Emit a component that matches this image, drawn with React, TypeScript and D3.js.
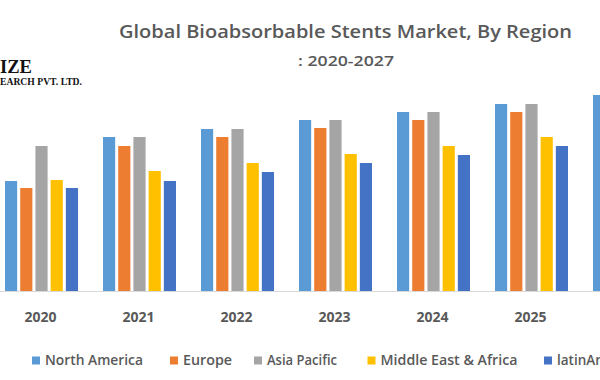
import React from "react";
import * as d3 from "d3";

const years = ["2020", "2021", "2022", "2023", "2024", "2025", "2026", "2027"];
const seriesNames = ["North America", "Europe", "Asia Pacific", "Middle East & Africa", "latinAmerica"];
const seriesColors = ["#5B9BD5", "#ED7D31", "#A5A5A5", "#FFC000", "#4472C4"];
const northAmerica = [11.0, 15.4, 16.2, 17.1, 17.9, 18.7, 19.6, 20.4];
const europe = [10.3, 14.5, 15.4, 16.3, 17.1, 17.9, 18.7, 19.6];
const asiaPacific = [14.5, 15.4, 16.2, 17.1, 17.9, 18.7, 19.6, 20.4];
const middleEastAfrica = [11.1, 12.0, 12.8, 13.7, 14.5, 15.4, 16.2, 17.1];
const latinAmerica = [10.3, 11.0, 11.9, 12.8, 13.6, 14.5, 15.4, 16.2];
const seriesValues = [northAmerica, europe, asiaPacific, middleEastAfrica, latinAmerica];

const titleLine1 = "Global Bioabsorbable Stents Market, By Region";
const titleLine2 = ":  2020-2027";

// legend layout (positions only)
const legendSquareX = [32, 170, 254, 367.5, 544];
const legendTextLen = [98, 49, 70, 137, 0];

export default function App() {
  const width = 600;
  const height = 380;
  const baseline = 291;

  const x0 = d3.scaleBand<string>().domain(years).range([5, 764]).paddingInner(0.255).paddingOuter(0);
  const x1 = d3.scaleBand<number>().domain(d3.range(seriesNames.length)).range([0, x0.bandwidth()]).paddingInner(0.2);
  const y = d3.scaleLinear().domain([0, 25]).range([baseline, baseline - 250]);

  const font = "'Open Sans', 'Noto Sans', sans-serif";
  const gray = "#595959";

  return (
    <svg width={width} height={height} style={{ position: "absolute", left: 0, top: 0, background: "#fff" }}>
      <rect width={width} height={height} fill="#fff" />
      {/* logo fragment */}
      <text x={0} y={72.5} fontFamily="'Liberation Serif', 'DejaVu Serif', serif" fontWeight="bold" fontSize={19} fill="#111" textLength={32} lengthAdjust="spacingAndGlyphs">IZE</text>
      <text x={0} y={85} fontFamily="'Liberation Serif', 'DejaVu Serif', serif" fontWeight="bold" fontSize={9.5} fill="#111" textLength={82} lengthAdjust="spacingAndGlyphs">EARCH PVT. LTD.</text>

      {/* title */}
      <text x={345.5} y={38} textAnchor="middle" fontFamily={font} fontWeight={600} fontSize={18.5} fill={gray} textLength={453} lengthAdjust="spacingAndGlyphs">{titleLine1}</text>
      <text x={346} y={66} textAnchor="middle" fontFamily={font} fontWeight={600} fontSize={15} fill={gray} textLength={96} lengthAdjust="spacingAndGlyphs">{titleLine2}</text>

      {/* bars */}
      {years.map((yr, i) => (
        <g key={yr} transform={`translate(${x0(yr)},0)`}>
          {seriesValues.map((vals, s) => (
            <rect key={s} x={x1(s)} y={y(vals[i])} width={x1.bandwidth()} height={baseline - y(vals[i])} fill={seriesColors[s]} />
          ))}
        </g>
      ))}

      {/* axis line */}
      <line x1={0} x2={width} y1={baseline + 0.5} y2={baseline + 0.5} stroke="#d9d9d9" strokeWidth={1} />

      {/* year labels */}
      {years.map((yr) => (
        <text key={yr} x={(x0(yr) as number) + x0.bandwidth() / 2 - 1} y={322} textAnchor="middle" fontFamily={font} fontWeight={700} fontSize={14} fill={gray}>{yr}</text>
      ))}

      {/* legend */}
      {seriesNames.map((name, s) => (
        <g key={name}>
          <rect x={legendSquareX[s]} y={356.5} width={8} height={8} fill={seriesColors[s]} />
          <text x={legendSquareX[s] + 13} y={365} fontFamily={font} fontWeight={600} fontSize={13.5} fill={gray}
            {...(legendTextLen[s] ? { textLength: legendTextLen[s], lengthAdjust: "spacingAndGlyphs" } : {})}>{name}</text>
        </g>
      ))}
    </svg>
  );
}
